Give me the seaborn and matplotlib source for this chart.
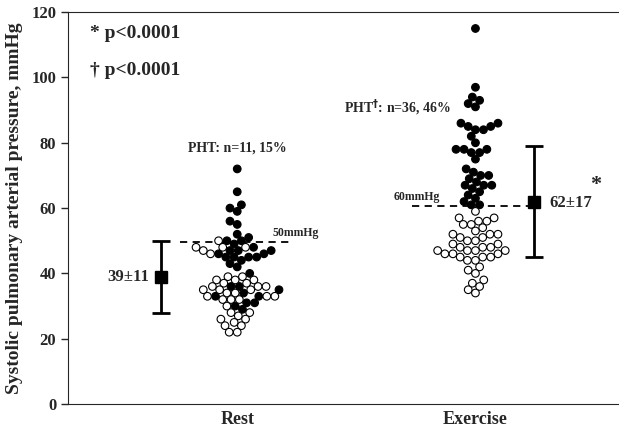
import numpy as np
import pandas as pd
import seaborn as sns
import matplotlib.pyplot as plt

# ------------------------------DATOS------------------------------
grupos = ["Rest", "Exercise"]

rest_filled = [72, 65, 61, 60, 59, 56, 55, 52, 51, 50, 50, 49, 48, 47, 47, 47, 46, 46,
               45, 45, 45, 45, 44, 43, 42, 40, 36, 36, 35, 34, 33, 33, 31, 31, 30, 29]
rest_open = [50, 48, 48, 48, 47, 46, 39, 39, 38, 38, 38, 37, 37, 36, 36, 36, 35, 35, 35,
             34, 34, 33, 33, 33, 32, 32, 32, 30, 28, 28, 27, 26, 26, 25, 24, 24, 22, 22]
ex_filled = [115, 97, 94, 93, 92, 91, 86, 86, 85, 85, 84, 84, 82, 80, 78, 78, 78, 77,
             77, 75, 72, 71, 70, 70, 69, 68, 67, 67, 67, 66, 65, 64, 63, 62, 61, 61]
ex_open = [59, 57, 57, 56, 56, 55, 55, 54, 53, 52, 52, 52, 51, 51, 50, 50, 49, 49, 48,
           48, 48, 47, 47, 47, 47, 46, 46, 46, 45, 45, 45, 44, 44, 42, 41, 40, 38, 37,
           36, 35, 34]

medias = [39, 62]
desv = [11, 17]
umbrales = [49.5, 60.5]
umbral_txt = ["50mmHg", "60mmHg"]
yticks = [0, 20, 40, 60, 80, 100, 120]

# ------------------------------TABLA------------------------------
filas = []
for v in rest_filled:
    filas.append(("Rest", v, "PHT"))
for v in rest_open:
    filas.append(("Rest", v, "no"))
for v in ex_filled:
    filas.append(("Exercise", v, "PHT"))
for v in ex_open:
    filas.append(("Exercise", v, "no"))
df = pd.DataFrame(filas, columns=["grupo", "pap", "estado"])

# ------------------------------GRAFICO------------------------------
sns.set_style("ticks")
plt.rcParams['font.family'] = ['Liberation Serif', 'DejaVu Serif']
plt.rcParams['font.weight'] = 'bold'

fig = plt.figure(figsize=(6.19, 4.34), dpi=100)
ax = fig.add_axes([0.11, 0.069, 0.889, 0.903])

# enjambre compacto: se calcula con puntos pequeños y luego se agrandan un poco
sns.swarmplot(data=df, x="grupo", y="pap", hue="estado", order=grupos,
              palette={"PHT": "black", "no": "white"}, edgecolor="black",
              linewidth=0.8, size=4.7, legend=False, ax=ax)
enjambres = list(ax.collections)

ax.set_xlim(-0.71, 1.6)
ax.set_ylim(0, 120)
fig.canvas.draw()
for coll in enjambres:
    if "draw" in coll.__dict__:
        del coll.draw
    coll.set_sizes([5.5 ** 2])

# media +- DE
x_media = [-0.32, 1.244]
ax.errorbar(x_media, medias, yerr=desv, fmt="s", color="black", ms=8.5,
            elinewidth=2, capsize=6.5, capthick=2)
ax.text(-0.37, medias[0], "39±11", ha="right", va="center", fontsize=12)
ax.text(1.31, medias[1] - 0.5, "62±17", ha="left", va="center", fontsize=12)
ax.text(1.505, 67, "*", ha="center", va="center", fontsize=16)

# umbrales
ax.plot([-0.24, 0.22], [umbrales[0]] * 2, ls="--", color="black", lw=1.3, dashes=(4, 3))
ax.plot([0.735, 1.22], [umbrales[1]] * 2, ls="--", color="black", lw=1.3, dashes=(4, 3))
ax.text(0.148, umbrales[0] + 1.0, umbral_txt[0], fontsize=8.5, ha="left", va="bottom")
ax.text(0.658, umbrales[1] + 1.0, umbral_txt[1], fontsize=8.5, ha="left", va="bottom")

# anotaciones PHT
ax.text(0.0, 76.5, "PHT: n=11, 15%", ha="center", va="bottom", fontsize=10)
ax.text(0.895, 87.5, "PHT$^{\\dagger}$: n=36, 46%", ha="right", va="bottom", fontsize=10)

# p valores
ax.text(-0.62, 113.5, "* p<0.0001", ha="left", va="center", fontsize=14)
ax.text(-0.62, 102, "† p<0.0001", ha="left", va="center", fontsize=14)

ax.set_yticks(yticks)
ax.tick_params(axis="y", labelsize=12, length=5, width=1)
ax.tick_params(axis="x", length=0, labelsize=13, pad=5)
ax.set_xlabel("")
ax.set_ylabel("Systolic pulmonary arterial pressure, mmHg", fontsize=14, fontweight="bold",
              labelpad=6)
for lab in ax.get_xticklabels() + ax.get_yticklabels():
    lab.set_fontweight("bold")
ax.spines["right"].set_visible(False)
ax.spines["top"].set_linewidth(0.8)

fig.savefig("out.png", dpi=100)
